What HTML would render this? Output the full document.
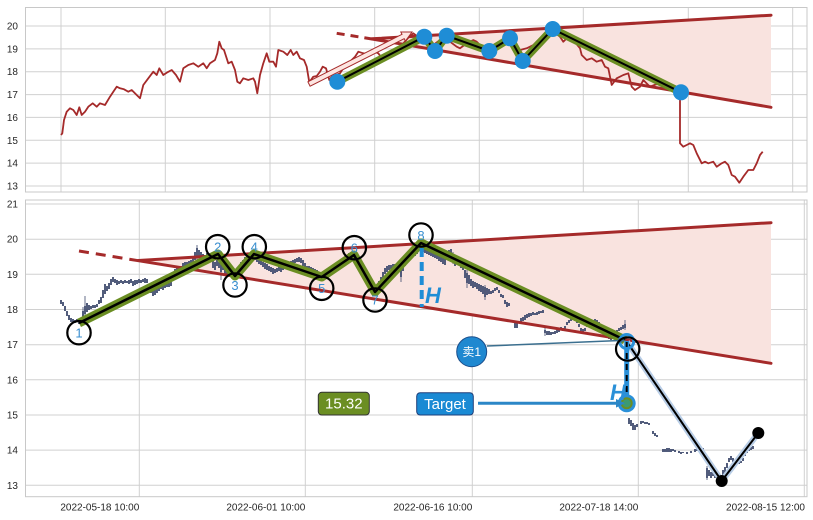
<!DOCTYPE html>
<html><head><meta charset="utf-8"><style>
html,body{margin:0;padding:0;background:#fff;}
svg{display:block;}
text{font-family:"Liberation Sans","Noto Sans CJK SC",sans-serif;}
</style></head><body>
<svg width="813" height="520" viewBox="0 0 813 520" xmlns="http://www.w3.org/2000/svg">
<rect width="813" height="520" fill="#fff"/>
<!-- ============ TOP PANEL ============ -->
<g stroke="#d0d0d0" stroke-width="1" fill="none">
<path d="M25 186H807M25 163.1H807M25 140.3H807M25 117.4H807M25 94.6H807M25 71.7H807M25 48.9H807M25 26H807"/>
<path d="M61 7V192M165.3 7V192M270 7V192M374.7 7V192M479.3 7V192M583.3 7V192M688.3 7V192M792.7 7V192"/>
<rect x="25.5" y="7.5" width="781.5" height="184.5" stroke="#c8c8c8"/>
</g>
<g font-size="10" fill="#262626" text-anchor="end">
<text x="18" y="29.5">20</text><text x="18" y="52.4">19</text><text x="18" y="75.2">18</text><text x="18" y="98.1">17</text>
<text x="18" y="120.9">16</text><text x="18" y="143.8">15</text><text x="18" y="166.6">14</text><text x="18" y="189.5">13</text>
</g>
<!-- fill -->
<polygon points="372,38.8 771,15.2 771,107.3 372,39" fill="#f9e3df"/>
<!-- price line -->
<polyline fill="none" stroke="#a52a2a" stroke-width="1.8" stroke-linejoin="round" points="61,135 62.3,133.3 64,120 66.7,111.7 70,108.3 73.3,110 76.7,115 79.3,107.3 81.7,115 85,111.7 88.3,106.7 92.7,103.3 96.7,106.7 100,103.3 105,105 110,96.7 113.3,91.7 116.7,86.7 120,88.3 124,89.3 128.3,91.7 131.7,90 136.7,95 140,98.3 143.3,85 148.3,78.3 153.3,71.7 156.7,75 159.3,68.3 163.3,75 166.7,72.7 171.7,70 176,75 180,81.7 183.3,68.3 188.3,65 193.3,63.3 198.3,66.7 203.3,63.3 206.7,68.3 210,63.3 215,60 217.3,53.3 219.3,41.7 221.7,48.3 224,50 228.3,63.3 231.7,61.7 235,70 237.3,81.7 240,83.3 243.3,78.3 248.3,80 253.3,78.3 255,81.7 257.3,93.3 260,75 263.3,63.3 266.7,53.3 269.3,61.7 273.3,61.7 276,66.7 278.3,50 283.3,51.7 287.3,55 290.7,50 293.3,55 296.7,51.7 300,58.3 304,60 306.7,66.7 309.3,82.3 313.3,76.7 316.7,76 320,71.7 322.7,66.7 326,68.3 329.3,80 331.7,76.7 336,75 340,73.3 343.3,68.3 350,61.7 355,56.7 358.3,51.7 363.3,53.3 370,55 375,51.7 378.3,53.3 383.3,60 388,55 395,50 402,45 408,38 413.3,33.3 420,38.3 426.7,41.7 433.3,45 440,40 450,41.7 456.7,46.7 460,48.3 466.7,43.3 473.3,40 476.7,41.7 480,45 486.7,46.7 493,47 500,45 507,42 513.3,45 520,50 526.7,48.3 533.3,45 540,38.3 546.7,33.3 553.3,31.7 560,36.7 563.3,41.7 566.7,38.3 573.3,40 580,48.3 581.7,55 586.7,60 591.7,58.3 596.7,61.7 601.7,60 605,66.7 608.3,68.3 611.7,85 616.7,78.3 623.3,75 628.3,73.3 631.7,86.7 635,90 640,86.7 643.3,80 650,86.7 657,84 663.3,85 673.3,88.3 680,90 680,143.3 683.3,146.7 686.7,145 690,143.3 693.3,145 696.7,153.3 701.7,163.3 705,161.7 708.3,163.3 713.3,161.7 716.7,166.7 721.7,163.3 725,161.7 728.3,165 731.7,175 735,176.7 739.3,182.7 743.3,176.7 748.3,170 753.3,170 756.7,163.3 760,155 762.7,151.7"/>
<!-- trend lines -->
<g stroke="#a52a2a" stroke-width="3" fill="none" stroke-linecap="round">
<line x1="372" y1="38.8" x2="771" y2="15.2"/>
<line x1="372" y1="39" x2="771" y2="107.3"/>
<line x1="336.7" y1="33.3" x2="372" y2="39" stroke-dasharray="8,6" stroke-linecap="butt"/>
</g>
<!-- arrow -->
<polygon points="307.9,81.8 402,34.3 400.8,32 412,32 405.4,41 404.2,38.7 310.1,86.2" fill="#fde6e2" stroke="#a52a2a" stroke-width="1"/>
<!-- zigzag -->
<polyline fill="none" stroke="#6b8e23" stroke-width="8" stroke-linejoin="round" points="337.3,81.7 424.3,36.7 435,51 446.7,35.7 489.3,51 510,38.3 522.7,61 552.7,29 681,92.3"/>
<polyline fill="none" stroke="#000" stroke-width="2" stroke-linejoin="round" points="337.3,81.7 424.3,36.7 435,51 446.7,35.7 489.3,51 510,38.3 522.7,61 552.7,29 681,92.3"/>
<g fill="#1f8dd6">
<circle cx="337.3" cy="81.7" r="8"/><circle cx="424.3" cy="36.7" r="8"/><circle cx="435" cy="51" r="8"/><circle cx="446.7" cy="35.7" r="8"/>
<circle cx="489.3" cy="51" r="8"/><circle cx="510" cy="38.3" r="8"/><circle cx="522.7" cy="61" r="8"/><circle cx="552.7" cy="29" r="8"/><circle cx="681" cy="92.3" r="8"/>
</g>

<!-- ============ BOTTOM PANEL ============ -->
<g stroke="#d0d0d0" stroke-width="1" fill="none">
<path d="M25 485.3H807M25 450.1H807M25 415H807M25 379.8H807M25 344.7H807M25 309.5H807M25 274.3H807M25 239.2H807M25 204H807"/>
<path d="M139.3 200V497M305.3 200V497M472.3 200V497M638.3 200V497M804.3 200V497"/>
<rect x="25.5" y="200" width="781.5" height="296.7" stroke="#c8c8c8"/>
</g>
<g font-size="10" fill="#262626" text-anchor="end">
<text x="18" y="207.5">21</text><text x="18" y="242.7">20</text><text x="18" y="277.8">19</text><text x="18" y="313">18</text>
<text x="18" y="348.2">17</text><text x="18" y="383.3">16</text><text x="18" y="418.5">15</text><text x="18" y="453.6">14</text><text x="18" y="488.8">13</text>
<text x="139.3" y="510.5">2022-05-18 10:00</text><text x="305.3" y="510.5">2022-06-01 10:00</text><text x="472.3" y="510.5">2022-06-16 10:00</text>
<text x="638.3" y="510.5">2022-07-18 14:00</text><text x="805" y="510.5">2022-08-15 12:00</text>
</g>
<polygon points="138.3,260.5 771,222.7 771,363.3 138.3,260.7" fill="#f9e3df"/>
<!-- candles -->
<path fill="none" stroke="#3f4b6e" stroke-width="1.8" d="M61 300V304M63 302V306M65 306V311M67 311V316M69 315V320M71 318V322M73 319V323M75 320V323M77 319V322M79 320V324M81 318V322M83 311V317M85 306V314M87 303V312M89 305V310M91 306V309M93 305V308M95 305V308M97 304V307M99 300V304M101 297V303M103 290V298M105 284V294M107 286V291M109 283V289M111 279V285M113 277V282M115 279V283M117 280V285M119 281V284M121 280V283M123 281V284M125 280V283M127 281V283M129 280V284M131 279V283M133 281V286M135 280V285M137 280V284M139 279V283M141 280V283M143 279V282M145 278V283M147 279V283M149 287V292M151 288V293M153 290V296M155 289V295M157 288V293M159 286V291M161 285V289M163 285V290M165 284V288M167 284V287M169 283V287M171 282V286M173 272V279M175 269V275M177 268V273M179 267V272M181 266V271M183 263V268M185 262V267M187 262V266M189 261V265M191 260V264M193 256V262M195 252V260M197 248V257M199 250V256M201 252V257M203 254V259M205 255V260M207 253V258M209 256V261M211 257V262M213 261V268M215 262V270M217 260V266M219 262V268M221 263V272M223 265V270M225 268V274M227 270V276M229 268V274M231 270V277M233 272V278M235 273V276M237 268V273M239 266V271M241 262V268M243 260V265M245 257V262M247 255V260M249 254V258M251 254V258M253 255V259M255 256V260M257 257V262M259 258V264M261 260V265M263 262V267M265 263V269M267 264V270M269 266V271M271 267V272M273 268V274M275 269V273M277 268V272M279 266V271M281 267V272M283 265V270M285 263V268M287 262V267M289 262V266M291 261V265M293 260V265M295 259V263M297 258V262M299 257V262M301 258V263M303 260V266M305 263V269M307 266V271M309 266V272M311 267V273M313 268V273M315 269V274M317 270V275M319 272V277M321 273V278M323 274V278M325 273V277M327 272V276M329 271V276M331 268V273M333 267V271M335 266V270M337 264V269M339 263V267M341 261V265M343 258V263M345 257V262M347 255V259M349 253V257M351 252V256M353 253V256M355 254V258M357 256V261M359 259V266M361 262V270M363 266V274M365 272V280M367 276V283M369 282V288M371 286V291M373 288V292M375 289V293M377 285V290M379 281V287M381 277V282M383 272V278M385 268V274M387 266V272M389 265V270M391 265V269M393 264V268M395 264V268M397 263V268M399 266V272M401 270V277M403 265V271M405 261V266M407 258V263M409 256V260M411 255V259M413 253V257M415 251V256M417 249V254M419 247V251M421 246V250M423 248V252M425 249V253M427 250V254M429 251V255M431 251V256M433 253V257M435 254V258M437 255V259M439 256V261M441 257V262M443 258V264M445 259V265M447 254V260M449 250V256M451 249V255M453 255V262M455 260V266M457 259V264M459 257V263M461 262V268M463 264V270M465 270V278M467 273V283M469 275V284M471 279V286M473 281V288M475 282V287M477 283V289M479 284V291M481 285V292M483 286V294M485 287V297M487 288V295M489 289V294M491 291V294M493 290V293M495 288V291M497 287V290M499 290V293M501 294V297M503 295V298M505 300V304M507 302V307M509 303V306M515 322V328M517 323V328M521 318V322M523 317V321M525 315V320M527 314V318M529 313V317M531 313V316M533 312V315M535 313V315M537 312V315M539 311V314M541 311V313M543 310V313M545 330V333M547 331V335M549 331V335M551 332V335M553 332V334M555 331V334M557 330V333M559 329V332M561 327V330M563 328V331M565 326V329M567 322V325M569 320V323M571 318V321M573 317V320M575 318V321M577 320V323M579 324V327M581 328V331M583 329V332M585 328V331M587 324V327M589 321V324M591 320V323M593 320V323M595 319V322M597 320V323M599 322V326M601 325V328M603 328V331M605 331V334M607 334V337M609 336V339M611 337V340M613 336V339M615 334V337M617 330V334M619 328V331M621 327V330M623 325V329M625 324V328M629 418V424M631 420V426M633 423V430M635 425V430M637 424V427M641 421V424M643 421V423M645 422V424M647 422V424M649 423V425M653 431V434M655 433V436M657 435V437M663 449V452M665 449V452M667 448V452M669 448V452M671 449V452M673 449V451M675 450V452M679 451V453M681 452V454M683 452V453M687 452V454M691 451V453M695 449V452M697 447V451M699 448V451M701 449V452M703 448V451M707 468V478M709 470V476M711 472V478M713 470V476M715 474V478M717 473V478M719 475V479M721 477V480M723 470V476M725 467V474M727 463V468M729 458V462M731 456V460M733 458V462M735 460V463M737 461V464M739 462V464M741 461V463M743 458V461M745 453V456M747 450V453M749 448V451M751 447V450M753 446V449"/>
<path fill="none" stroke="#3f4b6e" stroke-width="0.8" d="M85 296V316M83 307V319M197 245V260M221 262V280M401 268V282M453 252V264M467 270V288M485 285V300M545 327V336M625 320V330M707 466V480"/>
<!-- trend lines -->
<g stroke="#a52a2a" stroke-width="3" fill="none" stroke-linecap="round">
<line x1="138.3" y1="260.5" x2="771" y2="222.7"/>
<line x1="138.3" y1="260.7" x2="771" y2="363.3"/>
<line x1="79" y1="251" x2="138.3" y2="260.7" stroke-dasharray="10,7" stroke-linecap="butt"/>
</g>
<!-- zigzag -->
<polyline fill="none" stroke="#6b8e23" stroke-width="9" stroke-linejoin="round" points="79,323 218,254 235,276 254,254 321.7,277 354,255 375,292 421,243 625,340"/>
<polyline fill="none" stroke="#000" stroke-width="2.5" stroke-linejoin="round" points="79,323 218,254 235,276 254,254 321.7,277 354,255 375,292 421,243 625,340"/>
<!-- H at 8 -->
<line x1="421.7" y1="248" x2="421.7" y2="307" stroke="#1f8dd6" stroke-width="4" stroke-dasharray="9,5"/>
<text x="425" y="303" font-size="22" font-weight="bold" font-style="italic" fill="#1f8dd6">H</text>
<!-- after-breakout line -->
<polyline fill="none" stroke="#b8cde6" stroke-width="6" stroke-linejoin="round" points="627,342 721.7,481 758.3,433"/>
<polyline fill="none" stroke="#000" stroke-width="2" stroke-linejoin="round" points="627,342 721.7,481 758.3,433"/>
<circle cx="721.7" cy="481" r="6" fill="#000"/>
<circle cx="758.3" cy="433" r="6" fill="#000"/>
<!-- H at 9 -->
<line x1="626.7" y1="341" x2="626.7" y2="403" stroke="#2a90d8" stroke-width="5"/>
<line x1="626.7" y1="342" x2="626.7" y2="400" stroke="#000" stroke-width="2" stroke-dasharray="6,5"/>
<circle cx="626.7" cy="341.5" r="7" fill="none" stroke="#2a90d8" stroke-width="3"/>
<circle cx="626.7" cy="403.3" r="9" fill="#2a90d8"/>
<circle cx="626.7" cy="403.3" r="5" fill="#3c9a70" stroke="#6b8e23" stroke-width="2"/>
<text x="610" y="400" font-size="22" font-weight="bold" font-style="italic" fill="#2a90d8">H</text>
<!-- sell annotation -->
<line x1="487" y1="346" x2="620" y2="340.5" stroke="#3b6f8f" stroke-width="1.5"/>
<polygon points="626,340.2 618,337.6 618.4,343.4" fill="#3b6f8f"/>
<circle cx="471.7" cy="351.7" r="15" fill="#1f88d0" stroke="#1b4e8c" stroke-width="1"/>
<text x="471.7" y="356" font-size="12" fill="#fff" text-anchor="middle" style="font-family:'Liberation Sans','Noto Sans CJK SC',sans-serif">卖1</text>
<!-- target -->
<line x1="478" y1="403.3" x2="618" y2="403.3" stroke="#2b87c7" stroke-width="3"/>
<polygon points="625,403.3 616,399 616,407.6" fill="#2b87c7"/>
<rect x="416.7" y="392.7" width="56.6" height="22.3" rx="3.5" fill="#1a8ad4" stroke="#1f3f7a" stroke-width="1"/>
<text x="445" y="409" font-size="15" fill="#fff" text-anchor="middle">Target</text>
<rect x="318.3" y="392.3" width="51" height="22.7" rx="3.5" fill="#6b8e23" stroke="#333" stroke-width="1"/>
<text x="343.8" y="408.7" font-size="15" fill="#fff" text-anchor="middle">15.32</text>
<!-- numbered circles -->
<g fill="none" stroke="#000" stroke-width="2.2">
<circle cx="79" cy="332.7" r="11.7"/><circle cx="217.7" cy="246.7" r="11.7"/><circle cx="235" cy="285" r="11.7"/><circle cx="254.3" cy="246.7" r="11.7"/>
<circle cx="321.7" cy="288.3" r="11.7"/><circle cx="354.3" cy="247.7" r="11.7"/><circle cx="375" cy="300" r="11.7"/><circle cx="421" cy="235" r="11.7"/><circle cx="627.7" cy="349" r="11.7"/>
</g>
<g font-size="13" fill="#3a8fd0" text-anchor="middle">
<text x="79" y="337.5">1</text><text x="217.7" y="251.5">2</text><text x="235" y="290">3</text><text x="254.3" y="251.5">4</text>
<text x="321.7" y="293">5</text><text x="354.3" y="252.5">6</text><text x="375" y="304.5">7</text><text x="421" y="239.8">8</text>
</g>
</svg>
</body></html>
